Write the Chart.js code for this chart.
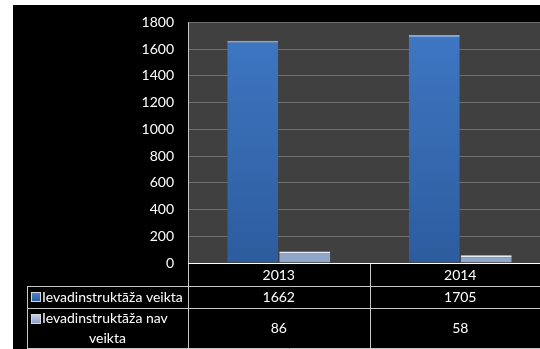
<!DOCTYPE html>
<html>
<head>
<meta charset="utf-8">
<script src="https://cdn.jsdelivr.net/npm/chart.js@4"></script>
<style>
  html, body { margin: 0; padding: 0; background: #fff; overflow: hidden; }
  #wrap { position: relative; width: 552px; height: 349px; }
</style>
</head>
<body>
<div id="wrap"><canvas id="c" width="552" height="349"></canvas></div>
<script>
// Dati no attēla
const years = ["2013", "2014"];
const seriesNames = ["Ievadinstruktāža veikta", "Ievadinstruktāža nav veikta"];
const veikta = [1662, 1705];
const navVeikta = [86, 58];
const yTicks = [0, 200, 400, 600, 800, 1000, 1200, 1400, 1600, 1800];

const FONT = "Lato, 'Open Sans', sans-serif";

function vGrad(ctx, area, top, bottom) {
  const g = ctx.createLinearGradient(0, area.top, 0, area.bottom);
  g.addColorStop(0, top);
  g.addColorStop(1, bottom);
  return g;
}

// фон: белая рамка, чёрное поле, серая область графика
const bgPlugin = {
  id: "bg",
  beforeDraw(chart) {
    const { ctx, chartArea: a } = chart;
    ctx.save();
    ctx.fillStyle = "#fff";
    ctx.fillRect(0, 0, chart.width, chart.height);
    ctx.fillStyle = "#000";
    ctx.fillRect(13, 5, chart.width - 13, chart.height - 5);
    ctx.fillStyle = "#404040";
    ctx.fillRect(a.left, a.top, a.right - a.left, a.bottom - a.top);
    ctx.restore();
  },
};

// таблица данных под осью
const tablePlugin = {
  id: "datatable",
  afterDraw(chart) {
    const { ctx, chartArea: a, scales } = chart;
    const x = scales.x;
    const half = (x.getPixelForValue(1) - x.getPixelForValue(0)) / 2;
    const colEdges = [a.left];
    years.forEach((_, i) => colEdges.push(x.getPixelForValue(i) + half));
    const leftEdge = 27;
    const rows = [a.bottom, 286, 308, 348];
    ctx.save();
    ctx.strokeStyle = "#c8c8c8";
    ctx.lineWidth = 1;
    ctx.beginPath();
    for (let r = 1; r < rows.length; r++) {
      ctx.moveTo(leftEdge, rows[r] + 0.5);
      ctx.lineTo(chart.width, rows[r] + 0.5);
    }
    ctx.moveTo(leftEdge + 0.5, rows[1]);
    ctx.lineTo(leftEdge + 0.5, rows[3]);
    colEdges.forEach((cx, i) => {
      ctx.moveTo(Math.round(cx) + 0.5, i === 0 ? a.top : a.bottom);
      ctx.lineTo(Math.round(cx) + 0.5, rows[3]);
    });
    ctx.stroke();
    ctx.strokeStyle = "#ffffff";
    ctx.beginPath();
    ctx.moveTo(a.left, a.bottom + 0.5);
    ctx.lineTo(chart.width, a.bottom + 0.5);
    ctx.stroke();

    ctx.fillStyle = "#fff";
    ctx.font = "14px " + FONT;
    ctx.textAlign = "center";
    ctx.textBaseline = "middle";
    years.forEach((y, i) => {
      const cx = x.getPixelForValue(i);
      ctx.fillText(y, cx, 275);
      ctx.fillText(String(veikta[i]), cx, 297);
      ctx.fillText(String(navVeikta[i]), cx, 328);
    });

    // легенда в заголовках строк
    const icon = (iy, c1, c2) => {
      const g = ctx.createLinearGradient(0, iy, 0, iy + 8);
      g.addColorStop(0, c1);
      g.addColorStop(1, c2);
      ctx.fillStyle = g;
      ctx.fillRect(32, iy, 8, 8);
      ctx.strokeStyle = "#d8d8d8";
      ctx.strokeRect(31.5, iy - 0.5, 9, 9);
    };
    icon(293, "#4a82cc", "#2e5fa3");
    icon(315, "#c3d1e6", "#8aa2c8");
    ctx.fillStyle = "#fff";
    ctx.textAlign = "left";
    ctx.fillText(seriesNames[0], 42, 297);
    ctx.fillText("Ievadinstruktāža nav", 42, 318);
    ctx.textAlign = "center";
    ctx.fillText("veikta", (leftEdge + a.left) / 2, 338);
    ctx.restore();
  },
};

new Chart(document.getElementById("c"), {
  type: "bar",
  data: {
    labels: years,
    datasets: [
      {
        label: seriesNames[0],
        data: veikta,
        backgroundColor: (c) => c.chart.chartArea ? vGrad(c.chart.ctx, c.chart.chartArea, "#3f78c4", "#2d5c9e") : "#3a6db4",
        borderColor: "#7ea6dc",
        borderWidth: { top: 2, left: 0, right: 0, bottom: 0 },
        borderSkipped: "bottom",
      },
      {
        label: seriesNames[1],
        data: navVeikta,
        backgroundColor: (c) => c.chart.chartArea ? vGrad(c.chart.ctx, c.chart.chartArea, "#b5c6de", "#8fa6c9") : "#a0b4d0",
        borderColor: "#e6edf7",
        borderWidth: { top: 2, left: 0, right: 0, bottom: 0 },
        borderSkipped: "bottom",
      },
    ],
  },
  options: {
    responsive: false,
    animation: false,
    layout: { padding: { top: 18, right: 1, bottom: 86, left: 0 } },
    categoryPercentage: 0.573,
    barPercentage: 0.98,
    plugins: { legend: { display: false }, tooltip: { enabled: false } },
    scales: {
      x: { display: false },
      y: {
        min: 0,
        max: 1800,
        afterFit: (s) => { s.width = 188; },
        afterBuildTicks: (s) => { s.ticks = yTicks.map((v) => ({ value: v })); },
        grid: { color: "#707070", drawTicks: false },
        border: { color: "#8a8a8a" },
        ticks: { color: "#fff", padding: 14, font: { family: FONT, size: 14 }, callback: (v) => String(v) },
      },
    },
  },
  plugins: [bgPlugin, tablePlugin],
});
</script>
</body>
</html>
